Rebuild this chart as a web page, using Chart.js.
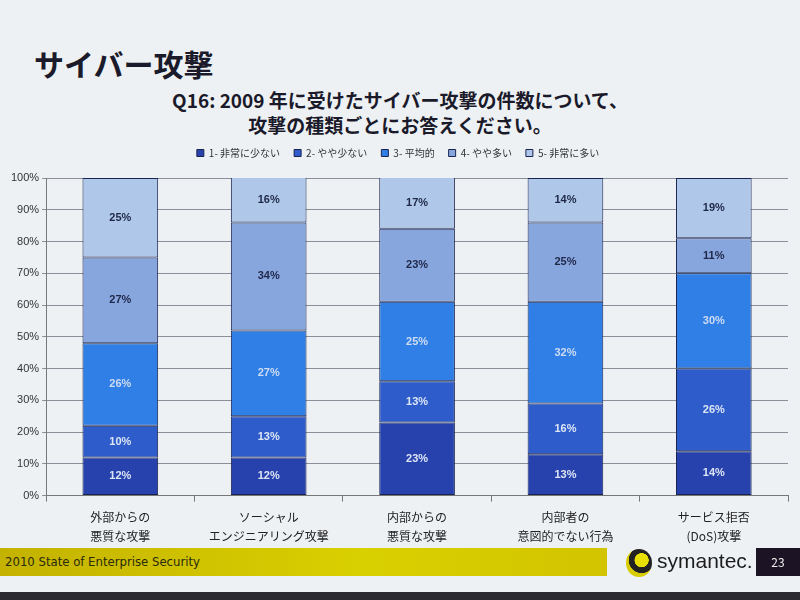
<!DOCTYPE html>
<html>
<head>
<meta charset="utf-8">
<script src="https://cdn.jsdelivr.net/npm/chart.js@4/dist/chart.umd.min.js"></script>
<style>
  body { margin: 0; width: 800px; height: 600px; overflow: hidden; background: #eef1f4; font-family: "Noto Sans CJK JP", "Noto Sans", sans-serif; position: relative; }
  #title { position: absolute; left: 34px; top: 41px; font-size: 30px; font-weight: bold; color: #1a1a2a; }
  #question { position: absolute; left: 0; width: 800px; top: 87px; text-align: center; font-size: 19px; font-weight: bold; color: #1a1a2a; line-height: 25px; }
  #wrap { position: absolute; left: 0; top: 130px; width: 800px; height: 422px; }
  #footer { position: absolute; left: 0; top: 548px; width: 607px; height: 28px; background: linear-gradient(to right, #c4b200, #d9d000 60%, #d2c400); }
  #footer span { position: absolute; left: 5px; top: 6px; font-family: "Liberation Sans Narrow", "DejaVu Sans Condensed", sans-serif; font-size: 13px; color: #2a2a10; }
  #logo { position: absolute; left: 626px; top: 549px; width: 26px; height: 28px; border-radius: 50%; background: radial-gradient(circle at 60% 40%, #e8e000 30%, #222 32%, #222 55%, #d8cc00 57%); }
  #brand { position: absolute; left: 657px; top: 549px; font-size: 21px; color: #1d1d1d; font-family: "Liberation Sans", sans-serif; }
  #page { position: absolute; left: 756px; top: 548px; width: 44px; height: 28px; background: #1c1424; color: #eee; font-size: 12px; text-align: center; line-height: 28px; }
  #edge { position: absolute; left: 0; top: 592px; width: 800px; height: 8px; background: #2a2a30; }
</style>
</head>
<body>
<div id="title">サイバー攻撃</div>
<div id="question">Q16: 2009 年に受けたサイバー攻撃の件数について、<br>攻撃の種類ごとにお答えください。</div>
<div id="wrap"><canvas id="chart"></canvas></div>
<div id="footer"><span>2010 State of Enterprise Security</span></div>
<div id="logo"></div>
<div id="brand">symantec.</div>
<div id="page">23</div>
<div id="edge"></div>
<script>
// 攻撃の種類
const categories = [
    ['外部からの', '悪質な攻撃'],
    ['ソーシャル', 'エンジニアリング攻撃'],
    ['内部からの', '悪質な攻撃'],
    ['内部者の', '意図的でない行為'],
    ['サービス拒否', '(DoS)攻撃']
];

// 回答の分布 (%)
const level1 = [12, 12, 23, 13, 14];
const level2 = [10, 13, 13, 16, 26];
const level3 = [26, 27, 25, 32, 30];
const level4 = [27, 34, 23, 25, 11];
const level5 = [25, 16, 17, 14, 19];

const seriesNames = ['1- 非常に少ない', '2- やや少ない', '3- 平均的', '4- やや多い', '5- 非常に多い'];
const seriesColors = ['#2742ad', '#2e5dcb', '#2f7fe6', '#88a6de', '#afc7e8'];
const labelColors = ['#dde6f5', '#dde6f5', '#cfdcf2', '#1e2748', '#1e2748'];
const yTicks = [0, 10, 20, 30, 40, 50, 60, 70, 80, 90, 100];

// 凡例の下に少し余白を足す
const legendGap = {
    id: 'legendGap',
    afterInit(chart) {
        const fit = chart.legend.fit;
        chart.legend.fit = function () {
            fit.call(this);
            this.height += 10;
        };
    }
};

// 各セグメントの中央に値を描く
const segmentLabels = {
    id: 'segmentLabels',
    afterDatasetsDraw(chart) {
        const ctx = chart.ctx;
        ctx.save();
        ctx.font = 'bold 11px "Liberation Sans", sans-serif';
        ctx.textAlign = 'center';
        ctx.textBaseline = 'middle';
        chart.data.datasets.forEach((ds, i) => {
            const meta = chart.getDatasetMeta(i);
            meta.data.forEach((bar, j) => {
                const p = bar.getProps(['x', 'y', 'base'], true);
                const top = Math.max(p.y, chart.chartArea.top);
                ctx.fillStyle = labelColors[i];
                ctx.fillText(ds.data[j] + '%', p.x, (top + p.base) / 2);
            });
        });
        ctx.restore();
    }
};

const datasets = [level1, level2, level3, level4, level5].map((values, i) => ({
    label: seriesNames[i],
    data: values,
    backgroundColor: seriesColors[i],
    borderColor: '#1a2450',
    borderWidth: 1,
    borderSkipped: false,
    categoryPercentage: 1,
    barPercentage: 0.51
}));

new Chart(document.getElementById('chart'), {
    type: 'bar',
    data: { labels: categories, datasets: datasets },
    plugins: [legendGap, segmentLabels],
    options: {
        responsive: true,
        maintainAspectRatio: false,
        animation: false,
        layout: { padding: { left: 8, right: 12, top: 4, bottom: 0 } },
        plugins: {
            legend: {
                position: 'top',
                labels: {
                    boxWidth: 7,
                    boxHeight: 7,
                    padding: 14,
                    color: '#333',
                    font: { size: 10, family: '"Noto Sans CJK JP"' }
                }
            },
            tooltip: { enabled: false }
        },
        scales: {
            x: {
                stacked: true,
                grid: { drawOnChartArea: false, tickLength: 6, color: '#777' },
                border: { color: '#777' },
                ticks: { color: '#222', font: { size: 12, family: '"Noto Sans CJK JP"', lineHeight: 1.6 }, padding: 6 }
            },
            y: {
                stacked: true,
                min: 0,
                max: 100,
                afterBuildTicks(axis) { axis.ticks = yTicks.map(v => ({ value: v })); },
                grid: { color: '#8a8f99', tickLength: 4 },
                border: { color: '#777' },
                ticks: {
                    color: '#333',
                    font: { size: 11, family: '"Liberation Sans"' },
                    callback: v => v + '%'
                }
            }
        }
    }
});
</script>
</body>
</html>
